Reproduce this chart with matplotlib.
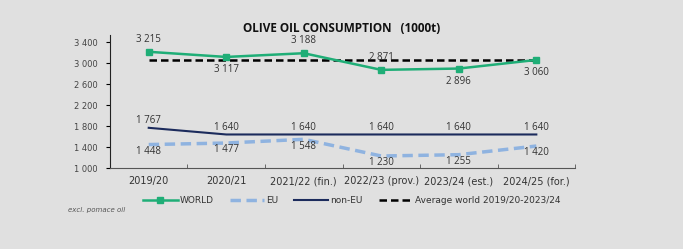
import matplotlib.pyplot as plt
from matplotlib.ticker import FuncFormatter, MultipleLocator

# data
seasons = ['2019/20', '2020/21', '2021/22 (fin.)', '2022/23 (prov.)', '2023/24 (est.)', '2024/25 (for.)']
world = [3215, 3117, 3188, 2871, 2896, 3060]
eu = [1448, 1477, 1548, 1230, 1255, 1420]
non_eu = [1767, 1640, 1640, 1640, 1640, 1640]
world_avg = sum(world[:5]) / 5

# label placement: +1 above, -1 below
world_pos = [1, -1, 1, 1, -1, -1]
eu_pos = [-1, -1, -1, -1, -1, -1]
non_eu_pos = [1, 1, 1, 1, 1, 1]

bg = '#e0e0e0'
green = '#1fae77'
navy = '#1c2b5c'
lblue = '#8fb3e0'

def fmt(v):
    return f'{int(v):,}'.replace(',', ' ')

fig = plt.figure(figsize=(6.83, 2.49), dpi=100, facecolor=bg)
ax = fig.add_axes([0.161, 0.325, 0.681, 0.534])
ax.set_facecolor(bg)

x = list(range(len(seasons)))
ax.plot(x, world, color=green, lw=1.8, marker='s', ms=5, label='WORLD', zorder=4)
ax.plot(x, eu, color=lblue, lw=2.5, ls=(0, (3, 1.6)), label='EU', zorder=3)
ax.plot(x, non_eu, color=navy, lw=1.5, label='non-EU', zorder=3)
ax.plot([x[0], x[-1]], [world_avg, world_avg], color='black', lw=1.8, ls=(0, (3, 1.6)),
        label='Average world 2019/20-2023/24', zorder=3)

# (series, placement, offset above, offset below) in points, label centre
for series, pos, up, down in [(world, world_pos, 9, -9), (eu, eu_pos, 5, -5),
                              (non_eu, non_eu_pos, 5, -5)]:
    for i, v in enumerate(series):
        off = up if pos[i] > 0 else down
        ax.annotate(fmt(v), (i, v), xytext=(0, off), textcoords='offset points',
                    ha='center', va='center',
                    fontsize=7, color='#333333', family='Open Sans', zorder=5)

ax.set_xlim(-0.5, 5.5)
ax.set_ylim(1000, 3533)
ax.set_xticks(x)
ax.set_xticklabels(seasons, fontsize=7, color='#333333', family='DejaVu Sans')
ax.xaxis.set_minor_locator(MultipleLocator(1, offset=0.5))
ax.tick_params(axis='x', which='major', length=0, pad=6)
ax.tick_params(axis='x', which='minor', direction='in', length=3, color='#555555')
ax.set_yticks([1000, 1400, 1800, 2200, 2600, 3000, 3400])
ax.yaxis.set_major_formatter(FuncFormatter(lambda v, p: fmt(v)))
ax.tick_params(axis='y', labelsize=6, labelcolor='#444444', length=3, direction='out', pad=6)

for s in ['top', 'right']:
    ax.spines[s].set_visible(False)
ax.spines['left'].set_color('#222222')
ax.spines['bottom'].set_color('#555555')

fig.text(0.5, 0.887, 'OLIVE OIL CONSUMPTION   (1000t)', ha='center', va='center',
         fontsize=8.5, fontweight='bold', family='Open Sans', color='#111111')

leg = ax.legend(loc='upper center', bbox_to_anchor=(0.52, -0.15), ncol=4, frameon=False,
                handlelength=3.8, handletextpad=0.2, columnspacing=1.8,
                prop={'family': 'DejaVu Sans', 'size': 6.5})
for t in leg.get_texts():
    t.set_color('#333333')

fig.text(0.1, 0.148, 'excl. pomace oil', fontsize=5, style='italic', color='#555555')

fig.savefig('out.png', dpi=100, facecolor=bg)
